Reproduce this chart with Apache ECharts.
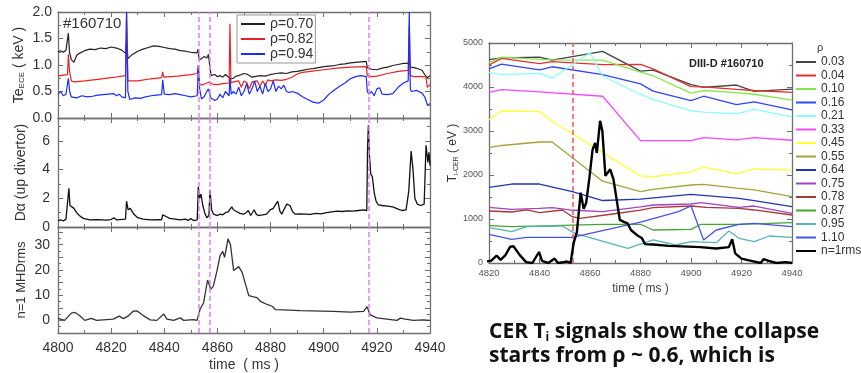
<!DOCTYPE html>
<html><head><meta charset="utf-8">
<script src="https://cdn.jsdelivr.net/npm/echarts@6/dist/echarts.min.js"></script>
<style>html,body{margin:0;padding:0;background:#fff}#c{width:861px;height:373px}</style>
</head><body><div id="c"></div>
<script>
// ---------- DATA ----------
const timeTicksLeft = [4800, 4820, 4840, 4860, 4880, 4900, 4920, 4940];
const collapseTimes = [4853, 4857, 4917];
const cerCollapseTime = [4853];

const te070 = [[4800,1.25],[4801,1.27],[4802,1.24],[4803,1.28],[4803.6,1.27],[4803.9,1.6],[4804.3,1.25],[4805,1.1],[4806,1.05],[4807,1.18],[4808,1.22],[4810,1.27],[4812,1.3],[4814,1.29],[4816,1.32],[4818,1.31],[4820,1.34],[4822,1.32],[4824,1.28],[4825.4,1.22],[4825.8,1.45],[4826.3,1.12],[4828,1.2],[4830,1.26],[4832,1.3],[4834,1.33],[4836,1.36],[4838,1.35],[4840,1.33],[4842,1.31],[4844,1.3],[4846,1.27],[4848,1.26],[4850,1.24],[4852.3,1.23],[4852.7,1.3],[4853.1,1.1],[4854,1.12],[4855,1.16],[4856,1.13],[4856.6,1.2],[4857.2,0.95],[4857.6,0.8],[4858,0.77],[4859,0.82],[4860,0.78],[4861,0.8],[4862,0.77],[4863,0.82],[4864,0.78],[4864.7,0.8],[4865.2,0.74],[4866,0.75],[4867,0.79],[4868,0.8],[4869,0.82],[4870,0.84],[4871,0.83],[4872,0.8],[4873,0.77],[4874,0.78],[4876,0.8],[4878,0.79],[4880,0.82],[4882,0.84],[4884,0.85],[4886,0.84],[4888,0.87],[4890,0.88],[4892,0.9],[4894,0.92],[4896,0.93],[4898,0.95],[4900,0.97],[4902,0.98],[4904,0.99],[4906,1.01],[4908,1.02],[4910,1.04],[4912,1.05],[4914,1.06],[4916,1.07],[4916.4,0.95],[4917,0.93],[4918,0.92],[4920,0.91],[4922,0.94],[4924,0.96],[4926,0.99],[4928,1.01],[4930,1.03],[4931.8,1.03],[4932.2,1.15],[4932.6,0.96],[4934,0.95],[4936,0.92],[4937,0.9],[4938,0.82],[4939,0.76],[4940,0.8]];
const te082 = [[4800,0.79],[4802,0.81],[4803.6,0.82],[4803.9,1.2],[4804.3,0.9],[4805,0.7],[4806,0.68],[4810,0.7],[4815,0.73],[4820,0.76],[4825.4,0.8],[4825.8,2.0],[4826.3,0.7],[4827,0.68],[4830,0.7],[4835,0.74],[4839,0.76],[4839.4,0.87],[4839.8,0.77],[4845,0.79],[4850,0.82],[4852.4,0.84],[4852.8,1.0],[4853.2,0.65],[4854,0.62],[4856,0.66],[4857,0.68],[4858,0.64],[4860,0.63],[4862,0.65],[4864.4,0.66],[4864.7,1.78],[4865.1,0.66],[4866,0.68],[4868,0.7],[4869,0.58],[4870,0.7],[4871,0.67],[4872,0.55],[4873,0.68],[4875,0.7],[4876,0.6],[4877,0.7],[4878,0.62],[4879,0.72],[4880,0.7],[4882,0.72],[4884,0.71],[4886,0.73],[4888,0.77],[4890,0.83],[4892,0.86],[4895,0.88],[4900,0.91],[4905,0.94],[4910,0.96],[4916,0.97],[4916.4,0.8],[4918,0.78],[4920,0.79],[4924,0.84],[4928,0.88],[4931.8,0.9],[4932.2,1.75],[4932.6,0.8],[4934,0.78],[4937,0.78],[4938.5,0.77],[4939,0.58],[4940,0.63]];
const te094 = [[4800,0.45],[4801,0.5],[4802,0.42],[4803,0.45],[4803.9,0.75],[4804.4,0.5],[4805,0.4],[4807,0.38],[4809,0.42],[4811,0.4],[4813,0.41],[4815,0.43],[4817,0.44],[4819,0.45],[4821,0.46],[4822,0.42],[4823,0.45],[4824,0.4],[4825.4,0.38],[4825.8,2.0],[4826.3,0.5],[4827,0.35],[4829,0.38],[4831,0.37],[4833,0.4],[4835,0.42],[4837,0.43],[4839,0.44],[4839.4,0.72],[4840,0.45],[4842,0.44],[4844,0.46],[4846,0.44],[4848,0.42],[4850,0.4],[4852.4,0.42],[4852.8,0.98],[4853.3,0.55],[4854,0.36],[4855,0.4],[4856,0.5],[4856.6,0.55],[4857.5,0.38],[4859,0.33],[4860,0.36],[4861,0.45],[4862,0.38],[4863,0.5],[4864.4,0.42],[4864.7,0.75],[4865.2,0.45],[4866,0.5],[4867,0.45],[4868,0.58],[4869,0.42],[4870,0.5],[4871,0.65],[4872,0.45],[4873,0.55],[4874,0.7],[4875,0.5],[4876,0.6],[4877,0.45],[4878,0.65],[4879,0.5],[4880,0.55],[4881,0.7],[4882,0.5],[4883,0.6],[4884,0.55],[4885,0.62],[4886,0.5],[4887,0.48],[4888,0.5],[4890,0.47],[4892,0.4],[4894,0.35],[4896,0.3],[4898,0.28],[4900,0.34],[4902,0.45],[4904,0.53],[4906,0.6],[4908,0.66],[4910,0.74],[4912,0.78],[4914,0.8],[4916,0.78],[4916.4,0.5],[4917,0.45],[4918,0.5],[4919,0.42],[4920,0.55],[4921,0.57],[4922,0.45],[4924,0.44],[4926,0.46],[4928,0.58],[4930,0.66],[4931.8,0.7],[4932.2,2.0],[4932.6,0.55],[4933,0.5],[4935,0.52],[4937,0.47],[4938,0.4],[4939,0.25],[4940,0.27]];

const dAlpha = [[4800,0.45],[4801,0.5],[4802,0.42],[4803,0.55],[4803.7,0.6],[4804.1,2.7],[4804.5,1.5],[4805.2,1.6],[4806,1.3],[4807,1.0],[4808,0.8],[4809.5,0.6],[4812,0.5],[4815,0.52],[4818,0.48],[4820,0.52],[4821,0.65],[4822,0.5],[4825.4,0.55],[4825.8,1.8],[4826.4,1.2],[4827.2,1.3],[4828.5,0.9],[4830,0.65],[4832,0.55],[4835,0.5],[4838,0.52],[4839,0.5],[4839.4,0.85],[4840.5,0.75],[4842,0.6],[4844,0.55],[4846,0.5],[4848,0.55],[4849,0.45],[4850,0.6],[4851,0.45],[4852.4,0.5],[4852.8,2.8],[4853.3,2.0],[4853.8,2.3],[4854.5,1.5],[4855.2,1.0],[4856,0.65],[4856.8,0.8],[4857.2,2.6],[4857.8,1.2],[4858.5,0.9],[4860,0.8],[4861,0.9],[4862,0.85],[4863,1.0],[4864,1.05],[4865.4,1.4],[4866,1.2],[4867,1.1],[4868.5,0.95],[4869.6,0.9],[4870.5,0.95],[4871.6,1.15],[4872.5,0.8],[4873.8,1.2],[4874.6,0.9],[4875.4,0.8],[4877,0.85],[4878.5,0.9],[4879.8,1.2],[4881,1.3],[4882.7,1.8],[4883.5,1.1],[4884.2,0.9],[4884.8,0.85],[4886.1,1.6],[4887.3,1.5],[4888.2,1.1],[4889.2,0.9],[4891,0.92],[4893,0.9],[4895,0.88],[4897,0.95],[4899,0.92],[4901,1.0],[4903,1.05],[4905,1.1],[4907,1.08],[4909,1.12],[4911,1.1],[4913,1.15],[4915,1.2],[4916.2,1.15],[4916.5,5.5],[4916.8,7.1],[4917.2,5.0],[4917.7,3.7],[4918.3,3.5],[4919,2.4],[4919.7,1.8],[4920.5,1.55],[4922,1.5],[4924,1.45],[4926,1.4],[4928,1.25],[4929.5,1.15],[4931,1.2],[4932,2.5],[4932.9,5.3],[4933.6,4.0],[4934.3,2.0],[4935.2,1.6],[4936.5,1.5],[4937.8,1.6],[4938.5,5.7],[4939.2,4.5],[4939.6,5.2],[4940,4.3]];

const mhdRms = [[4800,0.8],[4802.5,0],[4805,2.9],[4806.3,3.2],[4808.2,1.8],[4810.1,0],[4812.6,0.8],[4814.5,0],[4820.8,0.5],[4823,1.7],[4824.6,0.7],[4826.5,1.8],[4828.4,3.7],[4829.7,3.8],[4832.2,1.8],[4834.7,0.2],[4837.2,0],[4839.8,2.5],[4841,0.5],[4843.5,0],[4846,1.0],[4847.3,0],[4851,0.3],[4852.3,0],[4853.5,4.5],[4854.8,7],[4856.3,16],[4857.5,12.3],[4858.5,13.7],[4859.8,19.5],[4861,25.7],[4862,27.3],[4862.7,25],[4864,32.3],[4864.9,30],[4866.1,19.8],[4866.8,19.7],[4868,21.3],[4869.3,19],[4871.8,9.8],[4873.6,9.3],[4874.9,9.0],[4876.2,7.5],[4878.7,6.3],[4880.6,5.6],[4881.8,4.3],[4885,4.2],[4891.2,3.9],[4903.7,3.6],[4910,3.3],[4915,3.6],[4916.3,5.4],[4917.5,2.2],[4920,1.0],[4923.8,0.5],[4927.6,0.0],[4928.8,0.9],[4930.7,0.5],[4933.8,0.0],[4937.5,0.2],[4940,0]];

const rhoLabels = ['0.03','0.04','0.10','0.16','0.21','0.33','0.45','0.55','0.64','0.75','0.78','0.87','0.95','1.10'];
const ti003 = [[4820,4620],[4825,4660],[4840,4680],[4845,4610],[4865,4810],[4880,4360],[4885,4385],[4900,4055],[4905,3990],[4918,4045],[4925,3900],[4940,3950]];
const ti004 = [[4820,4500],[4825,4650],[4840,4530],[4845,4575],[4865,4510],[4880,4515],[4885,4410],[4900,4010],[4905,4005],[4918,3945],[4925,3920],[4940,3880]];
const ti010 = [[4820,4550],[4825,4680],[4840,4630],[4845,4615],[4865,4610],[4880,4340],[4885,4255],[4900,3860],[4905,3920],[4918,3870],[4925,3835],[4940,3700]];
const ti016 = [[4820,4410],[4825,4520],[4840,4390],[4845,4460],[4865,4280],[4880,4070],[4885,3905],[4900,3690],[4905,3790],[4918,3600],[4925,3660],[4940,3480]];
const ti021 = [[4820,4330],[4825,4280],[4840,4310],[4845,4200],[4860,4780],[4865,4250],[4880,3830],[4885,3720],[4900,3460],[4905,3430],[4918,3390],[4925,3490],[4940,3320]];
const ti033 = [[4820,3880],[4825,3940],[4840,3890],[4865,3790],[4880,2780],[4900,2780],[4905,2850],[4918,2800],[4925,2850],[4940,2790]];
const ti045 = [[4820,3250],[4825,3460],[4840,3440],[4845,3220],[4880,1980],[4885,1960],[4900,2070],[4905,2180],[4918,2030],[4925,2140],[4940,2110]];
const ti055 = [[4820,2630],[4825,2670],[4840,2750],[4845,2750],[4865,1860],[4880,1620],[4885,1675],[4900,1773],[4905,1788],[4918,1700],[4925,1660],[4940,1510]];
const ti064 = [[4820,1720],[4829,1795],[4840,1795],[4853,1620],[4865,1420],[4880,1450],[4900,1560],[4919,1470],[4925,1420],[4940,1280]];
const ti075 = [[4820,1265],[4829,1220],[4840,1243],[4845,1257],[4852,1205],[4865,1167],[4880,1275],[4885,1318],[4900,1341],[4904,1371],[4919,1265],[4925,1295],[4940,1129]];
const ti078 = [[4820,1182],[4829,1159],[4835,1205],[4840,1144],[4849,1205],[4853,1053],[4856,1015],[4869,1114],[4880,1200],[4885,1260],[4900,1295],[4906,1265],[4919,1242],[4925,1205],[4940,1091]];
const ti087 = [[4820,848],[4829,826],[4845,848],[4865,880],[4880,880],[4885,750],[4900,765],[4904,880],[4919,880],[4940,916]];
const ti095 = [[4820,803],[4829,712],[4835,826],[4849,841],[4854,674],[4875,333],[4885,523],[4894,409],[4900,485],[4910,462],[4915,727],[4919,561],[4925,485],[4931,614],[4940,584]];
const ti110 = [[4820,652],[4829,538],[4835,584],[4853,584],[4880,930],[4895,1166],[4900,1295],[4905,523],[4910,750],[4919,880],[4925,900],[4940,825]];
const tiProfiles = [ti003,ti004,ti010,ti016,ti021,ti033,ti045,ti055,ti064,ti075,ti078,ti087,ti095,ti110];
const tiColors = ['#444444','#e23030','#84e84a','#3244ff','#88ffff','#ff44ff','#ffff33','#a3a33a','#2234b0','#a044c0','#a83838','#44a434','#58b4b4','#4454e4'];

// ---------- CHART ----------
const FONT = 'Liberation Sans';
const AX = '#707070';
const chart = echarts.init(document.getElementById('c'), null, {renderer:'canvas'});

const grids = [
  {left:58, top:12, width:372, height:106},
  {left:58, top:118, width:372, height:109},
  {left:58, top:227, width:372, height:106},
  {left:489, top:43, width:303, height:220}
];
const plain = v => String(v);

function xAx(g, pos, min, max, labels, extra) {
  return Object.assign({
    type:'value', gridIndex:g, position:pos, min:min, max:max, interval:20,
    axisLine:{show:true, onZero:false, lineStyle:{color:AX, width:1.3}},
    axisTick:{show:true, inside:true, length:5, lineStyle:{color:AX}},
    minorTick:{show:true, splitNumber:2, length:3, lineStyle:{color:AX}},
    splitLine:{show:false},
    axisLabel:{show:labels, color:'#333', fontFamily:FONT, fontSize:14, margin:8, formatter:plain}
  }, extra||{});
}
function yAx(g, pos, min, max, interval, labels, extra) {
  return Object.assign({
    type:'value', gridIndex:g, position:pos, min:min, max:max, interval:interval,
    axisLine:{show:true, onZero:false, lineStyle:{color:AX, width:1.3}},
    axisTick:{show:true, inside:true, length:5, lineStyle:{color:AX}},
    minorTick:{show:true, splitNumber:2, length:3, lineStyle:{color:AX}},
    splitLine:{show:false},
    axisLabel:{show:labels, color:'#333', fontFamily:FONT, fontSize:14, margin:6, formatter:plain}
  }, extra||{});
}

const richName = (size) => ({
  n:{fontFamily:FONT, fontSize:size, color:'#333', verticalAlign:'bottom', lineHeight:size+4},
  s:{fontFamily:FONT, fontSize:Math.round(size*0.6), color:'#333', verticalAlign:'bottom', lineHeight:size+2}
});

const xAxes = [
  xAx(0,'bottom',4800,4940,false), xAx(0,'top',4800,4940,false),
  xAx(1,'bottom',4800,4940,false), xAx(1,'top',4800,4940,false),
  xAx(2,'bottom',4800,4940,true,{name:'time  ( ms )', nameLocation:'middle', nameGap:25, nameTextStyle:{fontFamily:FONT,fontSize:14,color:'#333'}}),
  xAx(2,'top',4800,4940,false),
  xAx(3,'bottom',4820,4940,true,{name:'time ( ms )', nameLocation:'middle', nameGap:20, nameTextStyle:{fontFamily:FONT,fontSize:12,color:'#444'}, axisLabel:{show:true,color:'#555',fontFamily:FONT,fontSize:9.5,margin:5,formatter:plain}}),
  xAx(3,'top',4820,4940,false)
];
const yAxes = [
  yAx(0,'left',0,2,0.5,true,{axisLabel:{show:true,color:'#333',fontFamily:FONT,fontSize:14,margin:6,formatter:v=>v.toFixed(1)},
      name:'{n|Te}{s|ECE}{n| ( keV )}', nameLocation:'middle', nameRotate:90, nameGap:32, nameTextStyle:{rich:richName(14)}}),
  yAx(0,'right',0,2,0.5,false),
  yAx(1,'left',0,7.6,2,true,{axisLabel:{show:true,color:'#333',fontFamily:FONT,fontSize:14,margin:8,showMaxLabel:false,formatter:plain},
      name:'Dα (up divertor)', nameLocation:'middle', nameRotate:90, nameGap:30, nameTextStyle:{fontFamily:FONT,fontSize:14,color:'#333'}}),
  yAx(1,'right',0,7.6,2,false),
  yAx(2,'left',-5,37,5,true,{axisLabel:{show:true,color:'#333',fontFamily:FONT,fontSize:14,margin:8,showMaxLabel:false,
      formatter:v=>(v%10===0 && v>=0)?String(v):''},
      name:'n=1 MHDrms', nameLocation:'middle', nameRotate:90, nameGap:30, nameTextStyle:{fontFamily:FONT,fontSize:13,color:'#333'}}),
  yAx(2,'right',-5,37,5,false),
  yAx(3,'left',0,5000,1000,true,{axisLabel:{show:true,color:'#555',fontFamily:FONT,fontSize:9,margin:6,formatter:plain},
      name:'{n|T}{s|i-CER}{n| ( eV )}', nameLocation:'middle', nameRotate:90, nameGap:24, nameTextStyle:{rich:richName(12)}}),
  yAx(3,'right',0,5000,1000,false),
  {type:'value', gridIndex:3, min:0, max:50, show:false}
];

function dashLines(times, color) {
  return {symbol:'none', silent:true, animation:false, label:{show:false},
    lineStyle:{type:[5,3], color:color, width:1.5},
    data: times.map(t => ({xAxis:t}))};
}

const series = [];
const leftNames = ['ρ=0.70','ρ=0.82','ρ=0.94'];
const leftColors = ['#222222','#e82222','#1a2cff'];
[te070, te082, te094].forEach((d,i) => {
  series.push({name:leftNames[i], type:'line', xAxisIndex:0, yAxisIndex:0, data:d, symbol:'none', showSymbol:false,
    lineStyle:{color:leftColors[i], width:1.2}, itemStyle:{color:leftColors[i]}, animation:false,
    markLine: i===0 ? dashLines(collapseTimes, '#e27ef2') : undefined});
});
series.push({name:'Dα', type:'line', xAxisIndex:2, yAxisIndex:2, data:dAlpha, symbol:'none',
  lineStyle:{color:'#111', width:1.3}, animation:false, markLine:dashLines(collapseTimes, '#e27ef2')});
series.push({name:'MHD', type:'line', xAxisIndex:4, yAxisIndex:4, data:mhdRms, symbol:'none',
  lineStyle:{color:'#333', width:1.3}, animation:false, markLine:dashLines(collapseTimes, '#e27ef2')});
tiProfiles.forEach((d,i) => {
  series.push({name:rhoLabels[i], type:'line', xAxisIndex:6, yAxisIndex:6, data:d, symbol:'none',
    lineStyle:{color:tiColors[i], width:1.3}, itemStyle:{color:tiColors[i]}, animation:false,
    markLine: i===0 ? dashLines(cerCollapseTime, '#e85a5a') : undefined});
});
series.push({name:'n=1rms', type:'line', xAxisIndex:6, yAxisIndex:8, data:mhdRms, symbol:'none',
  lineStyle:{color:'#000', width:2.4}, itemStyle:{color:'#000'}, animation:false, z:5});

const option = {
  animation:false,
  grid: grids,
  xAxis: xAxes,
  yAxis: yAxes,
  legend: [
    {data:leftNames, orient:'vertical', left:237, top:15, itemWidth:24, itemHeight:12, itemGap:1,
     padding:[2,2,2,3], borderColor:'#999', borderWidth:1, backgroundColor:'#fff', itemStyle:{opacity:0},
     textStyle:{fontFamily:FONT, fontSize:14, color:'#333', lineHeight:12}, selectedMode:false},
    {data:rhoLabels.concat(['n=1rms']), orient:'vertical', left:795, top:56, itemWidth:20, itemHeight:10, itemGap:1.5,
     padding:0, itemStyle:{opacity:0}, textStyle:{fontFamily:FONT, fontSize:12, color:'#333', lineHeight:10}, selectedMode:false}
  ],
  graphic: [
    {type:'text', left:63, top:16, style:{text:'#160710', font:'15px "Liberation Sans"', fill:'#333'}},
    {type:'text', left:689, top:58, style:{text:'DIII-D #160710', font:'bold 11px "Liberation Sans"', fill:'#222'}},
    {type:'text', left:817, top:42, style:{text:'ρ', font:'11px "Liberation Sans"', fill:'#333'}},
    {type:'text', left:489, top:322, style:{
      rich:{b:{font:'bold 21px "Open Sans"', fill:'#111'}, sub:{font:'bold 12px "Open Sans"', fill:'#111', padding:[11,0,0,0]}},
      text:'{b|CER T}{sub|i}{b| signals show the collapse}'}},
    {type:'text', left:489, top:346, style:{text:'starts from ρ ~ 0.6, which is', font:'bold 21px "Open Sans"', fill:'#111'}}
  ],
  series: series
};
chart.setOption(option);
</script></body></html>
